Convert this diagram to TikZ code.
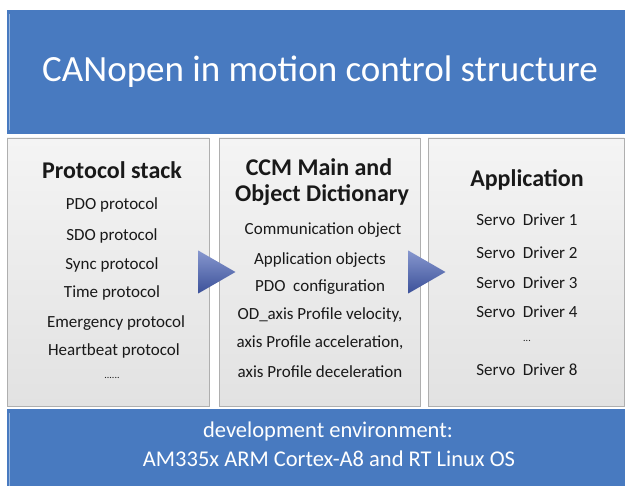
\documentclass[tikz,border=0pt]{standalone}
\usepackage{fontspec}
\setmainfont{Carlito}
\usetikzlibrary{shapes.geometric}
\definecolor{bandblue}{RGB}{72,122,192}
\definecolor{bandedge}{RGB}{150,180,220}
\definecolor{panelbg}{RGB}{226,226,226}
\definecolor{paneltop}{RGB}{244,244,244}
\definecolor{panelline}{RGB}{175,175,175}
\definecolor{arrowblue}{RGB}{70,95,180}
\definecolor{txt}{RGB}{25,25,25}
\tikzset{
  band/.style={fill=bandblue, draw=none},
  panel/.style={top color=paneltop, bottom color=panelbg, draw=panelline, line width=0.8pt},
  head/.style={font=\fontsize{24}{28}\selectfont\bfseries, text=txt, align=center, inner sep=0pt},
  item/.style={font=\fontsize{17}{20}\selectfont, text=txt, inner sep=0pt},
  bandtxt/.style={text=white, inner sep=0pt},
  flow/.style={isosceles triangle, isosceles triangle apex angle=60, minimum height=37pt, minimum width=43pt, inner sep=0pt, top color=arrowblue!65!white, bottom color=arrowblue!85!black, shading angle=0, draw=none}
}
\begin{document}
\begin{tikzpicture}[x=1pt,y=-1pt]
\useasboundingbox (0,0) rectangle (625,486);
\fill[white] (0,0) rectangle (625,486);
% top band
\fill[band] (7,10) rectangle (625,134);
\draw[bandedge, line width=1pt] (9,14) -- (9,130);
\node[bandtxt, font=\fontsize{37}{40}\selectfont] (title) at (320,72) {CANopen in motion control structure};
% panels
\draw[panel] (7,138) rectangle (209,406);
\draw[panel] (219,138) rectangle (420,406);
\draw[panel] (428,138) rectangle (624,406);
% panel 1
\node[head] (h1) at (112,170) {Protocol stack};
\node[item] (p1) at (112,205) {PDO protocol};
\node[item] (p2) at (112,236) {SDO protocol};
\node[item] (p3) at (112,265) {Sync protocol};
\node[item] (p4) at (112,293) {Time protocol};
\node[item] (p5) at (116,323) {Emergency protocol};
\node[item] (p6) at (114,351) {Heartbeat protocol};
\node[item, font=\fontsize{10}{12}\selectfont] (p7) at (112,378) {......};
% panel 2
\node[head] (h2a) at (319,167) {CCM Main and};
\node[head] (h2b) at (322,195) {Object Dictionary};
\node[item] (c1) at (323,230) {Communication object};
\node[item] (c2) at (320,260) {Application objects};
\node[item] (c3) at (320,287) {PDO\ \ configuration};
\node[item] (c4) at (320,315) {OD\_axis Profile velocity,};
\node[item] (c5) at (320,343) {axis Profile acceleration,};
\node[item] (c6) at (320,372) {axis Profile deceleration};
% panel 3
\node[head] (h3) at (527,180) {Application};
\node[item] (s1) at (527,220) {Servo\ \ Driver 1};
\node[item] (s2) at (527,253) {Servo\ \ Driver 2};
\node[item] (s3) at (527,283) {Servo\ \ Driver 3};
\node[item] (s4) at (527,312) {Servo\ \ Driver 4};
\node[item, font=\fontsize{10}{12}\selectfont] (s5) at (527,341) {...};
\node[item] (s8) at (527,370) {Servo\ \ Driver 8};
% arrows
\node[flow, anchor=west] (a1) at (198,272) {};
\node[flow, anchor=west] (a2) at (408,272) {};
% bottom band
\fill[band] (7,409) rectangle (625,486);
\draw[bandedge, line width=1pt] (9,413) -- (9,486);
\node[bandtxt, font=\fontsize{22.5}{26}\selectfont] (e1) at (328,432) {development environment:};
\node[bandtxt, font=\fontsize{22.5}{26}\selectfont] (e2) at (329,459) {AM335x ARM Cortex-A8 and RT Linux OS};
\end{tikzpicture}
\end{document}
